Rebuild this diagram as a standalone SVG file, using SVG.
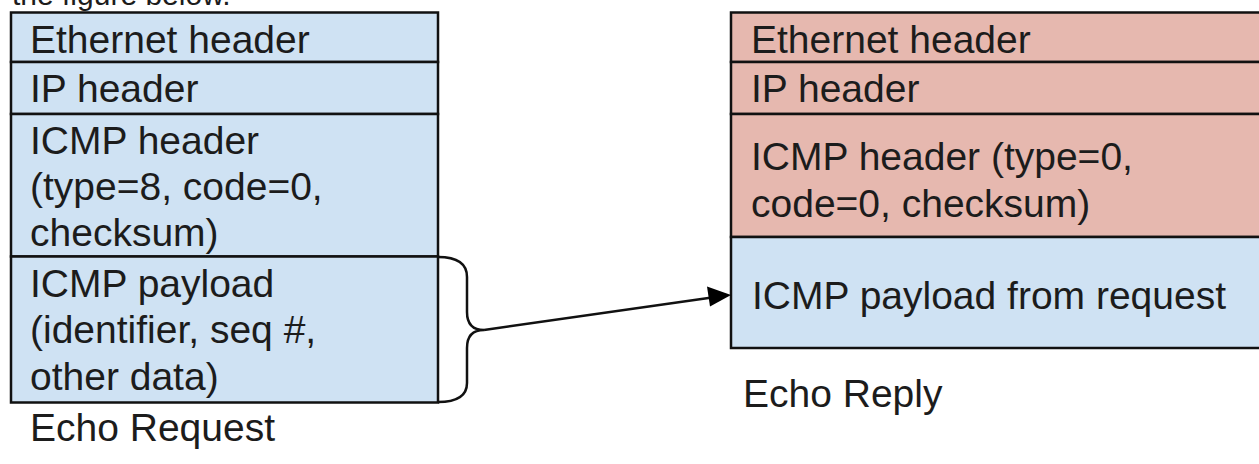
<svg xmlns="http://www.w3.org/2000/svg" width="1259" height="464" viewBox="0 0 1259 464">
<defs>
<style>
.t{font-family:"Liberation Sans",Arial,sans-serif;font-size:39px;fill:#1c1c1c}
.cap{font-family:"Liberation Sans",Arial,sans-serif;font-size:30px;fill:#1c1c1c}
.blue{fill:#cfe2f3;stroke:#111;stroke-width:2.5}
.red{fill:#e6b8af;stroke:#111;stroke-width:2.5}
.ln{stroke:#111;stroke-width:2.5;fill:none}
</style>
</defs>
<rect width="1259" height="464" fill="#fff"/>
<text class="cap" x="12" y="5">the figure below.</text>

<g id="request">
<g id="req-eth"><rect class="blue" x="11" y="12.5" width="427" height="49.5"/><text class="t" x="30" y="53">Ethernet header</text></g>
<g id="req-ip"><rect class="blue" x="11" y="62" width="427" height="52"/><text class="t" x="30" y="102">IP header</text></g>
<g id="req-icmp"><rect class="blue" x="11" y="114" width="427" height="142.5"/>
<text class="t" x="30" y="154">ICMP header</text>
<text class="t" x="30" y="200">(type=8, code=0,</text>
<text class="t" x="30" y="246">checksum)</text></g>
<g id="req-payload"><rect class="blue" x="11" y="256.5" width="427" height="146"/>
<text class="t" x="30" y="297">ICMP payload</text>
<text class="t" x="30" y="343">(identifier, seq #,</text>
<text class="t" x="30" y="390">other data)</text></g>
<text id="req-label" class="t" x="30" y="441">Echo Request</text>
</g>

<g id="reply">
<g id="rep-eth"><rect class="red" x="731" y="12.5" width="540" height="49.5"/><text class="t" x="751" y="53">Ethernet header</text></g>
<g id="rep-ip"><rect class="red" x="731" y="62" width="540" height="52"/><text class="t" x="751" y="102">IP header</text></g>
<g id="rep-icmp"><rect class="red" x="731" y="114" width="540" height="123"/>
<text class="t" x="751" y="170">ICMP header (type=0,</text>
<text class="t" x="751" y="217">code=0, checksum)</text></g>
<g id="rep-payload"><rect class="blue" x="731" y="237" width="540" height="111"/>
<text class="t" x="752" y="309">ICMP payload from request</text></g>
<text id="rep-label" class="t" x="743" y="407">Echo Reply</text>
</g>

<g id="connectors">
<path class="ln" d="M438,257 Q467,257 467,277 L467,312 Q467,330 484,330 Q467,330 467,348 L467,383 Q467,402 438,402"/>
<line class="ln" x1="484" y1="330" x2="712" y2="297.5" stroke-width="3"/>
<path d="M731,295 L707,286.5 L710,306.5 Z" fill="#000"/>
</g>
</svg>
